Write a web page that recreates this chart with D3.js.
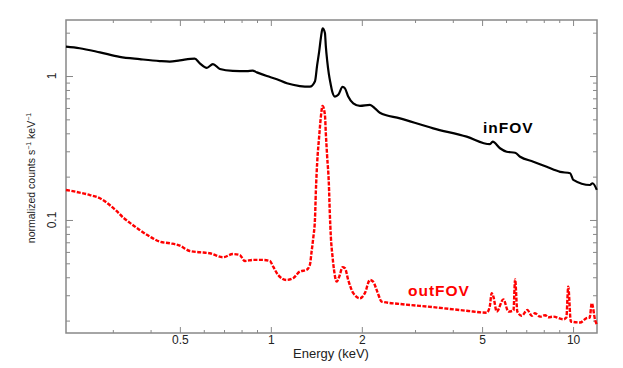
<!DOCTYPE html>
<html>
<head>
<meta charset="utf-8">
<script src="https://cdn.jsdelivr.net/npm/d3@7"></script>
<style>
  body { margin: 0; background: #fff; }
  svg { display: block; }
</style>
</head>
<body>
<div id="chart"></div>
<script>
// inFOV spectrum (energy keV, normalized counts s-1 keV-1)
const inEnergy = [0.21, 0.233, 0.272, 0.316, 0.368, 0.429, 0.463, 0.50, 0.56, 0.582, 0.614, 0.643, 0.678,
  0.748, 0.833, 0.87, 0.899, 0.97, 1.047, 1.13, 1.247, 1.346, 1.40, 1.423, 1.445, 1.464, 1.483, 1.51,
  1.52, 1.536, 1.556, 1.577, 1.596, 1.629, 1.671, 1.727, 1.759, 1.803, 1.874, 1.972, 2.127, 2.21,
  2.295, 2.675, 3.446, 4.446, 5.31, 5.42, 5.73, 6.03, 6.43, 6.68, 7.39, 8.18, 9.06, 9.78, 10.02,
  11.38, 11.6, 11.98];
const inRate = [1.60, 1.56, 1.46, 1.36, 1.31, 1.27, 1.26, 1.285, 1.32, 1.225, 1.14, 1.21, 1.12,
  1.085, 1.08, 1.09, 1.06, 1.0, 0.95, 0.89, 0.852, 0.843, 0.92, 1.19, 1.475, 1.84, 2.14, 1.99,
  1.62, 1.28, 1.03, 0.88, 0.78, 0.72, 0.74, 0.84, 0.82, 0.72, 0.646, 0.62, 0.63, 0.597,
  0.556, 0.508, 0.433, 0.379, 0.336, 0.350, 0.315, 0.298, 0.293, 0.275, 0.254, 0.234, 0.216, 0.211, 0.190,
  0.175, 0.18, 0.162];

// outFOV spectrum
const outEnergy = [0.21, 0.233, 0.252, 0.272, 0.293, 0.308, 0.324, 0.341, 0.368, 0.398, 0.429, 0.463,
  0.50, 0.539, 0.582, 0.628, 0.695, 0.748, 0.789, 0.82, 0.874, 0.943, 0.992, 1.018, 1.057, 1.127,
  1.185, 1.247, 1.313, 1.346, 1.364, 1.381, 1.40, 1.409, 1.423, 1.445, 1.464, 1.483, 1.51, 1.52,
  1.536, 1.556, 1.567, 1.58, 1.60, 1.617, 1.651, 1.684, 1.727, 1.759, 1.803, 1.874, 1.972, 2.047,
  2.127, 2.18, 2.25, 2.326, 2.675, 3.446, 4.446, 5.18, 5.3, 5.38, 5.45, 5.59, 5.88, 6.11, 6.35, 6.43,
  6.54, 6.76, 7.06, 7.30, 7.48, 7.78, 8.08, 8.28, 8.61, 9.29, 9.5, 9.64, 9.83, 10.55, 11.09, 11.35,
  11.53, 11.83, 11.98];
const outRate = [0.1616, 0.155, 0.149, 0.1415, 0.127, 0.116, 0.1044, 0.0958, 0.0853, 0.0766, 0.0707, 0.0689,
  0.0663, 0.0609, 0.0597, 0.0587, 0.0551, 0.058, 0.0571, 0.0519, 0.0528, 0.0528, 0.0519, 0.0474, 0.0415, 0.0383,
  0.0394, 0.0438, 0.045, 0.0487, 0.0602, 0.0746, 0.1028, 0.157, 0.248, 0.379, 0.522, 0.619, 0.536, 0.404,
  0.275, 0.177, 0.112, 0.0759, 0.0556, 0.0455, 0.0373, 0.0404, 0.0469, 0.0462, 0.0383, 0.031, 0.0286, 0.031,
  0.0383, 0.0373, 0.0318, 0.0271, 0.0261, 0.0248, 0.0234, 0.0227, 0.025, 0.031, 0.0293, 0.0231, 0.0281, 0.0231, 0.0235, 0.0387,
  0.0231, 0.0216, 0.0237, 0.0216, 0.0225, 0.0213, 0.0218, 0.0211, 0.0213, 0.0204, 0.021, 0.0344, 0.0197, 0.0194, 0.0208, 0.021,
  0.0264, 0.0202, 0.0187];

const xMajor = [0.5, 1, 2, 5, 10];
const xMinor = [0.3, 0.4, 0.6, 0.7, 0.8, 0.9, 3, 4, 6, 7, 8, 9];
const yMajor = [0.1, 1];
const yMinor = [0.02, 0.03, 0.04, 0.05, 0.06, 0.07, 0.08, 0.09, 0.2, 0.3, 0.4, 0.5, 0.6, 0.7, 0.8, 0.9, 2];

const width = 623, height = 368;
const mLeft = 66, mRight = 597, mTop = 20, mBottom = 333;

const svg = d3.select("#chart").append("svg")
    .attr("width", width)
    .attr("height", height)
    .attr("font-family", "'Liberation Sans', Arial, sans-serif");

const x = d3.scaleLog().domain([0.21, 12]).range([mLeft, mRight]);
const y = d3.scaleLog().domain([0.0164, 2.45]).range([mBottom, mTop]);

const axisColor = "#888";

function styleAxis(g) {
  g.select(".domain").remove();
  g.selectAll("line").attr("stroke", axisColor).attr("stroke-width", 1);
  g.selectAll("text").attr("fill", "#222").attr("font-size", 12);
}

// ticks: bottom / top (pointing inward)
svg.append("g").attr("transform", `translate(0,${mBottom})`)
  .call(d3.axisBottom(x).tickValues(xMajor).tickSize(-6).tickPadding(2).tickFormat(d3.format("")))
  .call(styleAxis);
svg.append("g").attr("transform", `translate(0,${mBottom})`)
  .call(d3.axisBottom(x).tickValues(xMinor).tickSize(-3).tickFormat(""))
  .call(styleAxis);
svg.append("g").attr("transform", `translate(0,${mTop})`)
  .call(d3.axisTop(x).tickValues(xMajor).tickSize(-6).tickFormat(""))
  .call(styleAxis);
svg.append("g").attr("transform", `translate(0,${mTop})`)
  .call(d3.axisTop(x).tickValues(xMinor).tickSize(-3).tickFormat(""))
  .call(styleAxis);

// ticks: left / right
svg.append("g").attr("transform", `translate(${mLeft},0)`)
  .call(d3.axisLeft(y).tickValues(yMajor).tickSize(-7).tickFormat(""))
  .call(styleAxis);
svg.append("g").attr("transform", `translate(${mLeft},0)`)
  .call(d3.axisLeft(y).tickValues(yMinor).tickSize(-4).tickFormat(""))
  .call(styleAxis);
svg.append("g").attr("transform", `translate(${mRight},0)`)
  .call(d3.axisRight(y).tickValues(yMajor).tickSize(-7).tickFormat(""))
  .call(styleAxis);
svg.append("g").attr("transform", `translate(${mRight},0)`)
  .call(d3.axisRight(y).tickValues(yMinor).tickSize(-4).tickFormat(""))
  .call(styleAxis);

// rotated y tick labels
svg.append("g").selectAll("text")
  .data(yMajor)
  .join("text")
    .attr("transform", d => `translate(56,${y(d)}) rotate(-90)`)
    .attr("text-anchor", "middle")
    .attr("font-size", 12)
    .attr("fill", "#222")
    .text(d => d3.format("")(d));

// frame
svg.append("rect")
    .attr("x", mLeft).attr("y", mTop)
    .attr("width", mRight - mLeft).attr("height", mBottom - mTop)
    .attr("fill", "none")
    .attr("stroke", axisColor)
    .attr("stroke-width", 1.5);

// spectra
const inData = inEnergy.map((e, i) => [e, inRate[i]]);
const outData = outEnergy.map((e, i) => [e, outRate[i]]);

const line = d3.line()
    .curve(d3.curveMonotoneX)
    .x(d => x(d[0]))
    .y(d => y(d[1]));

svg.append("path")
    .datum(outData)
    .attr("d", line)
    .attr("fill", "none")
    .attr("stroke", "#ff0000")
    .attr("stroke-width", 2.4)
    .attr("stroke-dasharray", "4,1.5");

svg.append("path")
    .datum(inData)
    .attr("d", line)
    .attr("fill", "none")
    .attr("stroke", "#000")
    .attr("stroke-width", 2.2);

// series labels
svg.append("text")
    .attr("x", 483).attr("y", 133)
    .attr("font-size", 15.5).attr("font-weight", "bold")
    .attr("letter-spacing", 1)
    .attr("fill", "#000")
    .text("inFOV");

svg.append("text")
    .attr("x", 408).attr("y", 296)
    .attr("font-size", 15.5).attr("font-weight", "bold")
    .attr("letter-spacing", 1)
    .attr("fill", "#ff0000")
    .text("outFOV");

// axis titles
svg.append("text")
    .attr("x", 331).attr("y", 358)
    .attr("text-anchor", "middle")
    .attr("font-size", 13)
    .attr("fill", "#222")
    .text("Energy (keV)");

const ylab = svg.append("text")
    .attr("transform", "translate(35,178) rotate(-90)")
    .attr("text-anchor", "middle")
    .attr("font-size", 10.5)
    .attr("fill", "#222");
ylab.append("tspan").text("normalized counts s");
ylab.append("tspan").attr("dy", -4).attr("font-size", 7).text("−1");
ylab.append("tspan").attr("dy", 4).text(" keV");
ylab.append("tspan").attr("dy", -4).attr("font-size", 7).text("−1");
</script>
</body>
</html>
